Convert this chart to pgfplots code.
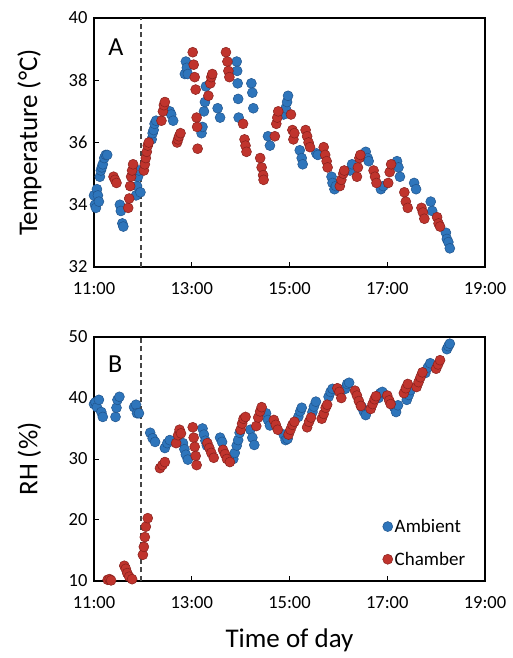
\documentclass[border=0pt]{standalone}
\usepackage{fontspec}
\setmainfont{Carlito}
\usepackage{pgfplots}
\usepackage{pgfplotstable}
\pgfplotsset{compat=1.18}
\definecolor{amb}{RGB}{46,117,187}
\definecolor{ambE}{RGB}{32,84,140}
\definecolor{cha}{RGB}{192,52,45}
\definecolor{chaE}{RGB}{135,32,28}
\definecolor{dashc}{RGB}{70,70,70}

\pgfplotstableread{
t T
11.00 34.3
11.02 34.0
11.04 33.9
11.06 34.5
11.08 34.3
11.10 34.1
11.12 34.9
11.14 35.1
11.16 35.2
11.18 35.3
11.21 35.5
11.24 35.6
11.27 35.6
11.53 34.0
11.55 33.8
11.58 33.4
11.60 33.3
11.86 34.3
11.88 34.6
11.90 34.9
11.92 35.1
11.95 34.4
12.18 36.1
12.20 36.3
12.22 36.4
12.24 36.6
12.27 36.7
12.55 37.0
12.58 36.9
12.62 36.7
12.86 38.2
12.88 38.6
12.90 38.4
12.92 38.2
13.20 36.3
13.22 36.5
13.25 37.0
13.27 37.3
13.29 37.8
13.53 37.1
13.58 36.8
13.92 38.6
13.93 38.3
13.94 37.9
13.95 37.4
13.96 36.8
14.22 37.9
14.24 37.6
14.26 37.1
14.56 36.2
14.60 35.9
14.88 36.9
14.92 37.1
14.95 37.3
14.97 37.5
15.21 35.75
15.25 35.5
15.27 35.3
15.55 35.65
15.58 35.6
15.86 34.9
15.88 34.7
15.92 34.5
15.95 34.6
16.24 35.1
16.28 35.3
16.56 35.7
16.60 35.5
16.62 35.4
16.87 34.5
16.92 34.6
17.20 35.4
17.23 35.2
17.26 34.9
17.55 34.7
17.59 34.5
17.89 34.1
17.92 33.8
18.20 33.1
18.22 32.9
18.25 32.8
18.28 32.6
}\ambT

\pgfplotstableread{
t T
11.40 34.9
11.43 34.8
11.46 34.7
11.70 33.9
11.72 34.2
11.74 34.6
11.76 34.9
11.78 35.1
11.80 35.3
12.02 35.1
12.04 35.3
12.06 35.5
12.08 35.7
12.10 35.9
12.12 36.0
12.38 36.7
12.41 37.0
12.43 37.2
12.45 37.3
12.70 36.0
12.72 36.1
12.74 36.2
12.77 36.3
13.02 38.9
13.04 38.5
13.06 38.1
13.08 37.7
13.10 36.8
13.11 36.5
13.12 35.8
13.34 37.5
13.38 37.9
13.40 38.1
13.42 38.2
13.70 38.9
13.73 38.6
13.75 38.3
13.77 38.1
14.05 36.6
14.08 36.1
14.10 35.9
14.12 35.7
14.40 35.5
14.43 35.2
14.46 34.95
14.47 34.8
14.70 36.2
14.73 36.6
14.75 36.8
14.77 37.0
15.03 36.9
15.06 36.4
15.08 36.1
15.10 36.3
15.33 36.4
15.36 36.2
15.39 36.0
15.42 35.85
15.70 35.85
15.73 35.6
15.76 35.4
15.78 35.2
16.03 34.6
16.06 34.8
16.10 35.0
16.12 35.1
16.38 34.9
16.40 35.2
16.43 35.5
16.45 35.6
16.72 35.1
16.75 34.9
16.78 34.7
17.02 34.7
17.05 35.05
17.08 35.3
17.35 34.4
17.38 34.1
17.42 33.9
17.70 33.9
17.73 33.75
17.76 33.55
18.02 33.6
18.05 33.4
18.08 33.3
}\chaT

\pgfplotstableread{
t RH
11.00 39.0
11.03 39.3
11.06 38.5
11.10 39.7
11.15 37.7
11.18 36.9
11.44 36.9
11.46 38.4
11.48 39.7
11.52 40.2
11.82 38.5
11.86 38.9
11.88 37.5
11.92 37.5
12.15 34.3
12.20 33.4
12.25 32.8
12.45 31.8
12.50 32.6
12.55 33.1
12.82 32.6
12.85 31.6
12.88 30.7
12.92 29.9
13.22 35.0
13.25 34.0
13.28 33.0
13.31 32.2
13.58 33.5
13.62 32.8
13.85 30.0
13.88 31.0
13.92 32.2
13.95 33.1
13.98 34.3
14.20 34.8
14.24 33.5
14.28 32.3
14.52 37.5
14.56 36.4
14.60 35.5
14.88 34.0
14.92 33.1
14.96 33.3
15.18 36.9
15.22 37.8
15.25 38.4
15.47 37.7
15.50 38.6
15.54 39.4
15.80 40.2
15.84 41.0
15.88 41.5
16.14 41.5
16.18 42.3
16.22 42.5
16.48 38.5
16.52 37.8
16.56 37.2
16.82 40.0
16.86 40.8
16.90 41.0
17.14 38.5
17.18 37.7
17.22 38.8
17.40 39.7
17.44 40.5
17.48 41.3
17.78 44.1
17.83 45.0
17.88 45.7
18.22 48.0
18.25 48.5
18.28 48.9
}\ambR

\pgfplotstableread{
t RH
11.28 10.2
11.32 10.3
11.35 10.1
11.62 12.5
11.65 12.0
11.68 11.3
11.72 10.7
11.78 10.3
12.00 14.3
12.02 15.6
12.04 17.2
12.06 18.9
12.10 20.3
12.35 28.5
12.40 29.0
12.45 29.5
12.68 32.6
12.72 33.9
12.75 34.8
12.78 34.2
13.02 35.2
13.04 33.5
13.06 32.0
13.08 30.5
13.10 29.0
13.32 32.6
13.36 31.8
13.40 31.0
13.45 30.2
13.64 31.5
13.68 30.8
13.72 30.0
13.78 29.5
14.00 34.8
14.03 35.8
14.06 36.6
14.10 36.9
14.32 35.4
14.36 36.8
14.40 37.8
14.43 38.5
14.68 36.4
14.72 35.6
14.76 34.8
14.98 34.0
15.02 34.8
15.06 35.6
15.10 36.1
15.36 35.2
15.40 36.1
15.44 36.8
15.66 36.6
15.70 37.4
15.74 38.4
15.77 38.9
15.98 41.6
16.02 41.0
16.06 40.0
16.34 41.2
16.38 40.4
16.42 39.5
16.46 38.7
16.66 38.2
16.70 39.0
16.74 39.8
16.77 40.3
17.00 40.4
17.04 39.6
17.07 39.0
17.34 40.8
17.38 41.6
17.42 42.3
17.60 41.8
17.64 42.6
17.68 43.4
17.72 44.2
18.00 44.8
18.04 45.5
18.08 46.2
}\chaR

\pgfplotsset{
  myaxis/.style={
    scale only axis, width=391pt,
    xmin=11, xmax=19,
    xtick={11,13,15,17,19},
    xticklabels={11:00,13:00,15:00,17:00,19:00},
    xtick pos=left, ytick pos=left, tick align=inside,
    major tick length=5pt,
    axis line style={line width=1.2pt},
    tick style={line width=1pt, black},
    tick label style={font=\fontsize{18.5}{22}\selectfont},
    xticklabel style={yshift=-12pt},
    yticklabel style={xshift=-3pt},
    label style={font=\fontsize{27}{32}\selectfont},
    /pgf/number format/assume math mode=true,
    ylabel style={at={(axis description cs:-0.165,0.5)}, anchor=center},
    clip=false,
  },
  ambs/.style={only marks, mark=*, mark size=5pt,
    mark options={fill=amb, draw=ambE, line width=0.5pt}},
  chas/.style={only marks, mark=*, mark size=5pt,
    mark options={fill=cha, draw=chaE, line width=0.5pt}},
  dashs/.style={dashc, line width=1.2pt, dash pattern=on 5pt off 3.5pt, forget plot},
}

\begin{document}
\begin{tikzpicture}
\useasboundingbox (0,0) rectangle (512pt,658pt);
\begin{axis}[myaxis, at={(94pt,391pt)}, anchor=south west, height=249pt,
  ymin=32, ymax=40, ytick={32,34,36,38,40},
  ylabel={Temperature (°C)}]
\addplot[dashs] coordinates {(11.96,32) (11.96,40)};
\addplot[ambs] table[x=t,y=T] {\ambT};
\addplot[chas] table[x=t,y=T] {\chaT};
\node[font=\fontsize{26}{30}\selectfont] at (rel axis cs:0.056,0.884) {A};
\end{axis}
\begin{axis}[myaxis, at={(94pt,77pt)}, anchor=south west, height=244pt,
  ymin=10, ymax=50, ytick={10,20,30,40,50},
  ylabel={RH (\%)}, xlabel={Time of day},
  xlabel style={at={(axis description cs:0.5,-0.242)}, anchor=center},
  legend style={draw=none, fill=none, at={(rel axis cs:0.955,0.05)}, anchor=south east,
    font=\fontsize{19}{22}\selectfont, row sep=14pt, inner sep=0pt},
  legend cell align=left]
\addplot[dashs] coordinates {(11.96,10) (11.96,50)};
\addplot[ambs] table[x=t,y=RH] {\ambR};
\addlegendentry{Ambient}
\addplot[chas] table[x=t,y=RH] {\chaR};
\addlegendentry{Chamber}
\node[font=\fontsize{26}{30}\selectfont] at (rel axis cs:0.054,0.889) {B};
\end{axis}
\end{tikzpicture}
\end{document}
